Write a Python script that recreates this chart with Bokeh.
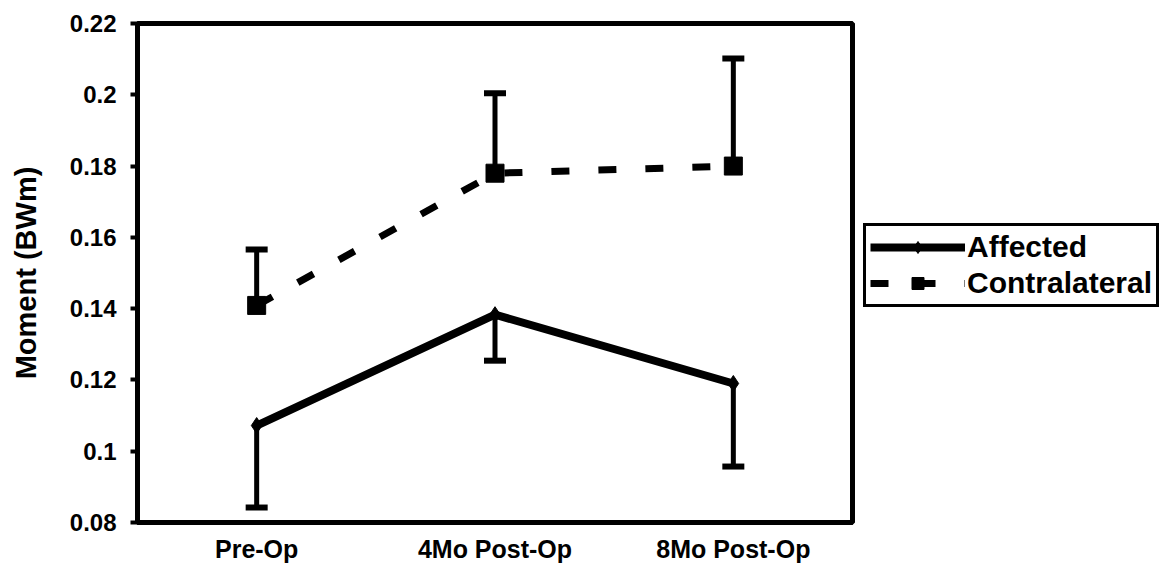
from bokeh.plotting import figure
from bokeh.layouts import row
from bokeh.models import (ColumnDataSource, Range1d, FactorRange, FixedTicker,
                          Whisker, TeeHead, Legend, LegendItem)
from bokeh.embed import file_html
from bokeh.resources import INLINE

categories = ["Pre-Op", "4Mo Post-Op", "8Mo Post-Op"]
affected = [0.1072, 0.1383, 0.1190]
affected_err = [0.0230, 0.0129, 0.0233]
contralateral = [0.1409, 0.1780, 0.1800]
contralateral_err = [0.0157, 0.0224, 0.0302]
tick_values = [0.08, 0.10, 0.12, 0.14, 0.16, 0.18, 0.20, 0.22]
tick_labels = ["0.08", "0.1", "0.12", "0.14", "0.16", "0.18", "0.2", "0.22"]
series_names = ["Affected", "Contralateral"]

FONT = "Liberation Sans"

src_a = ColumnDataSource(dict(
    x=categories, y=affected,
    lo=[v - e for v, e in zip(affected, affected_err)]))
src_c = ColumnDataSource(dict(
    x=categories, y=contralateral,
    hi=[v + e for v, e in zip(contralateral, contralateral_err)]))

p = figure(width=855, height=565, x_range=FactorRange(*categories),
           y_range=Range1d(0.08, 0.22), output_backend="svg",
           toolbar_location=None, min_border_left=137, min_border_right=3,
           min_border_top=23, min_border_bottom=43)

p.background_fill_color = "white"
p.border_fill_color = "white"
p.outline_line_color = "black"
p.outline_line_width = 5
p.xgrid.visible = False
p.ygrid.visible = False

# y axis
p.yaxis.ticker = FixedTicker(ticks=tick_values)
p.yaxis.major_label_overrides = {v: l for v, l in zip(tick_values, tick_labels)}
p.yaxis.minor_tick_line_color = None
p.yaxis.major_tick_line_width = 4
p.yaxis.major_tick_line_color = "black"
p.yaxis.major_tick_out = 7
p.yaxis.major_tick_in = 2
p.yaxis.axis_line_width = 5
p.yaxis.axis_line_color = "black"
p.yaxis.major_label_text_font = FONT
p.yaxis.major_label_text_font_style = "bold"
p.yaxis.major_label_text_font_size = "24px"
p.yaxis.major_label_text_color = "black"
p.yaxis.major_label_standoff = 14
p.yaxis.axis_label = "Moment (BWm)"
p.yaxis.axis_label_text_font = FONT
p.yaxis.axis_label_text_font_style = "bold"
p.yaxis.axis_label_text_font_size = "29px"
p.yaxis.axis_label_text_color = "black"
p.yaxis.axis_label_standoff = 25

# x axis
p.xaxis.axis_line_width = 5
p.xaxis.axis_line_color = "black"
p.xaxis.major_tick_line_color = None
p.xaxis.minor_tick_line_color = None
p.xaxis.major_label_text_font = FONT
p.xaxis.major_label_text_font_style = "bold"
p.xaxis.major_label_text_font_size = "25px"
p.xaxis.major_label_text_color = "black"
p.xaxis.major_label_standoff = 6

# lines
LINE_A = dict(line_color="black", line_width=8)
LINE_C = dict(line_color="black", line_width=7, line_dash="18 29")
MARK_A = dict(marker="diamond", size=16, fill_color="black", line_color="black")
MARK_C = dict(marker="square", size=18, fill_color="black", line_color="black")

p.line("x", "y", source=src_a, **LINE_A)
p.scatter("x", "y", source=src_a, **MARK_A)
p.line("x", "y", source=src_c, **LINE_C)
p.scatter("x", "y", source=src_c, **MARK_C)

# error bars
wa = Whisker(source=src_a, base="x", upper="y", lower="lo",
             line_color="black", line_width=5, upper_head=None,
             lower_head=TeeHead(size=22, line_width=6, line_color="black"))
wc = Whisker(source=src_c, base="x", upper="hi", lower="y",
             line_color="black", line_width=5, lower_head=None,
             upper_head=TeeHead(size=22, line_width=6, line_color="black"))
p.add_layout(wa)
p.add_layout(wc)

# legend panel (separate figure to the right; proxy renderers lie off-frame)
q = figure(width=304, height=565, x_range=Range1d(0, 1), y_range=Range1d(0, 1),
           output_backend="svg", toolbar_location=None,
           x_axis_location=None, y_axis_location=None, min_border=0)
q.outline_line_color = None
q.xgrid.visible = False
q.ygrid.visible = False
proxy = ColumnDataSource(dict(x=[-5, -6], y=[-5, -6]))
qa_l = q.line("x", "y", source=proxy, **LINE_A)
qa_m = q.scatter("x", "y", source=proxy, **MARK_A)
qc_l = q.line("x", "y", source=proxy, **LINE_C)
qc_m = q.scatter("x", "y", source=proxy, **MARK_C)

legend = Legend(items=[LegendItem(label=series_names[0], renderers=[qa_l, qa_m]),
                       LegendItem(label=series_names[1], renderers=[qc_l, qc_m])],
                location=(8, 215))
legend.label_text_font = FONT
legend.label_text_font_style = "bold"
legend.label_text_font_size = "30px"
legend.label_text_color = "black"
legend.glyph_width = 95
legend.glyph_height = 30
legend.label_standoff = 2
legend.padding = 4
legend.spacing = 2
legend.margin = 0
legend.border_line_color = "black"
legend.border_line_width = 3
legend.border_line_alpha = 1.0
legend.background_fill_color = "white"
legend.background_fill_alpha = 1.0
q.add_layout(legend, "center")

layout = row(p, q)
open("out.html", "w").write(file_html(layout, INLINE))
